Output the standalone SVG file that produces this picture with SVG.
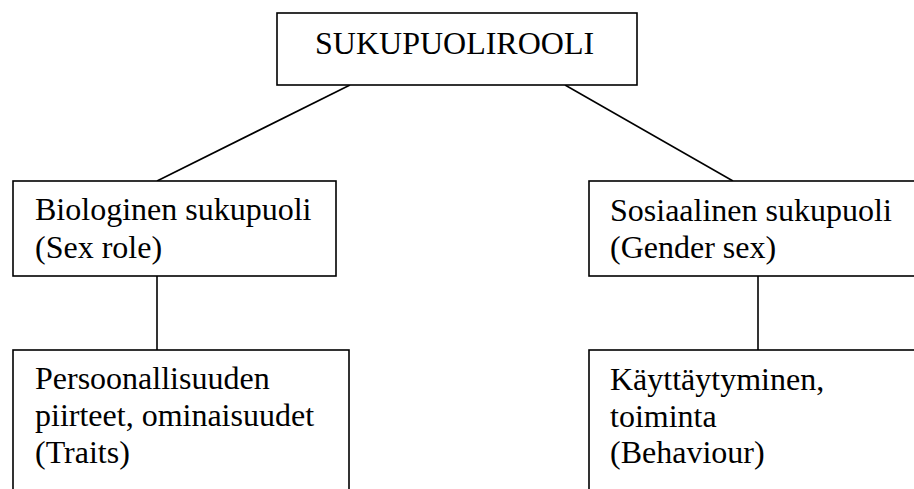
<svg xmlns="http://www.w3.org/2000/svg" width="914" height="489" viewBox="0 0 914 489">
<style>
.box{fill:#fff;stroke:#000;stroke-width:1.6}
.lbl{font-family:"Liberation Serif","Times New Roman",serif;font-size:32px;fill:#000}
.conn{stroke:#000;stroke-width:1.6;fill:none}
</style>
<rect width="914" height="489" fill="#fff"/>
<g id="connectors">
<line class="conn" x1="350" y1="85" x2="157" y2="181"/>
<line class="conn" x1="565" y1="85" x2="733" y2="181"/>
<line class="conn" x1="157" y1="276" x2="157" y2="350"/>
<line class="conn" x1="758" y1="276" x2="758" y2="350"/>
</g>
<g id="root">
<rect class="box" x="277" y="13" width="360" height="72"/>
<text class="lbl" x="315" y="54">SUKUPUOLIROOLI</text>
</g>
<g id="bio">
<rect class="box" x="13" y="181" width="323" height="95"/>
<text class="lbl" x="35" y="220">Biologinen sukupuoli</text>
<text class="lbl" x="35" y="258">(Sex role)</text>
</g>
<g id="sos">
<rect class="box" x="589" y="181" width="340" height="95"/>
<text class="lbl" x="610" y="221">Sosiaalinen sukupuoli</text>
<text class="lbl" x="610" y="258">(Gender sex)</text>
</g>
<g id="traits">
<rect class="box" x="13" y="350" width="336" height="160"/>
<text class="lbl" x="35" y="389">Persoonallisuuden</text>
<text class="lbl" x="35" y="426">piirteet, ominaisuudet</text>
<text class="lbl" x="35" y="463">(Traits)</text>
</g>
<g id="behaviour">
<rect class="box" x="589" y="350" width="340" height="160"/>
<text class="lbl" x="610" y="390">Käyttäytyminen,</text>
<text class="lbl" x="610" y="427">toiminta</text>
<text class="lbl" x="610" y="463">(Behaviour)</text>
</g>
</svg>
